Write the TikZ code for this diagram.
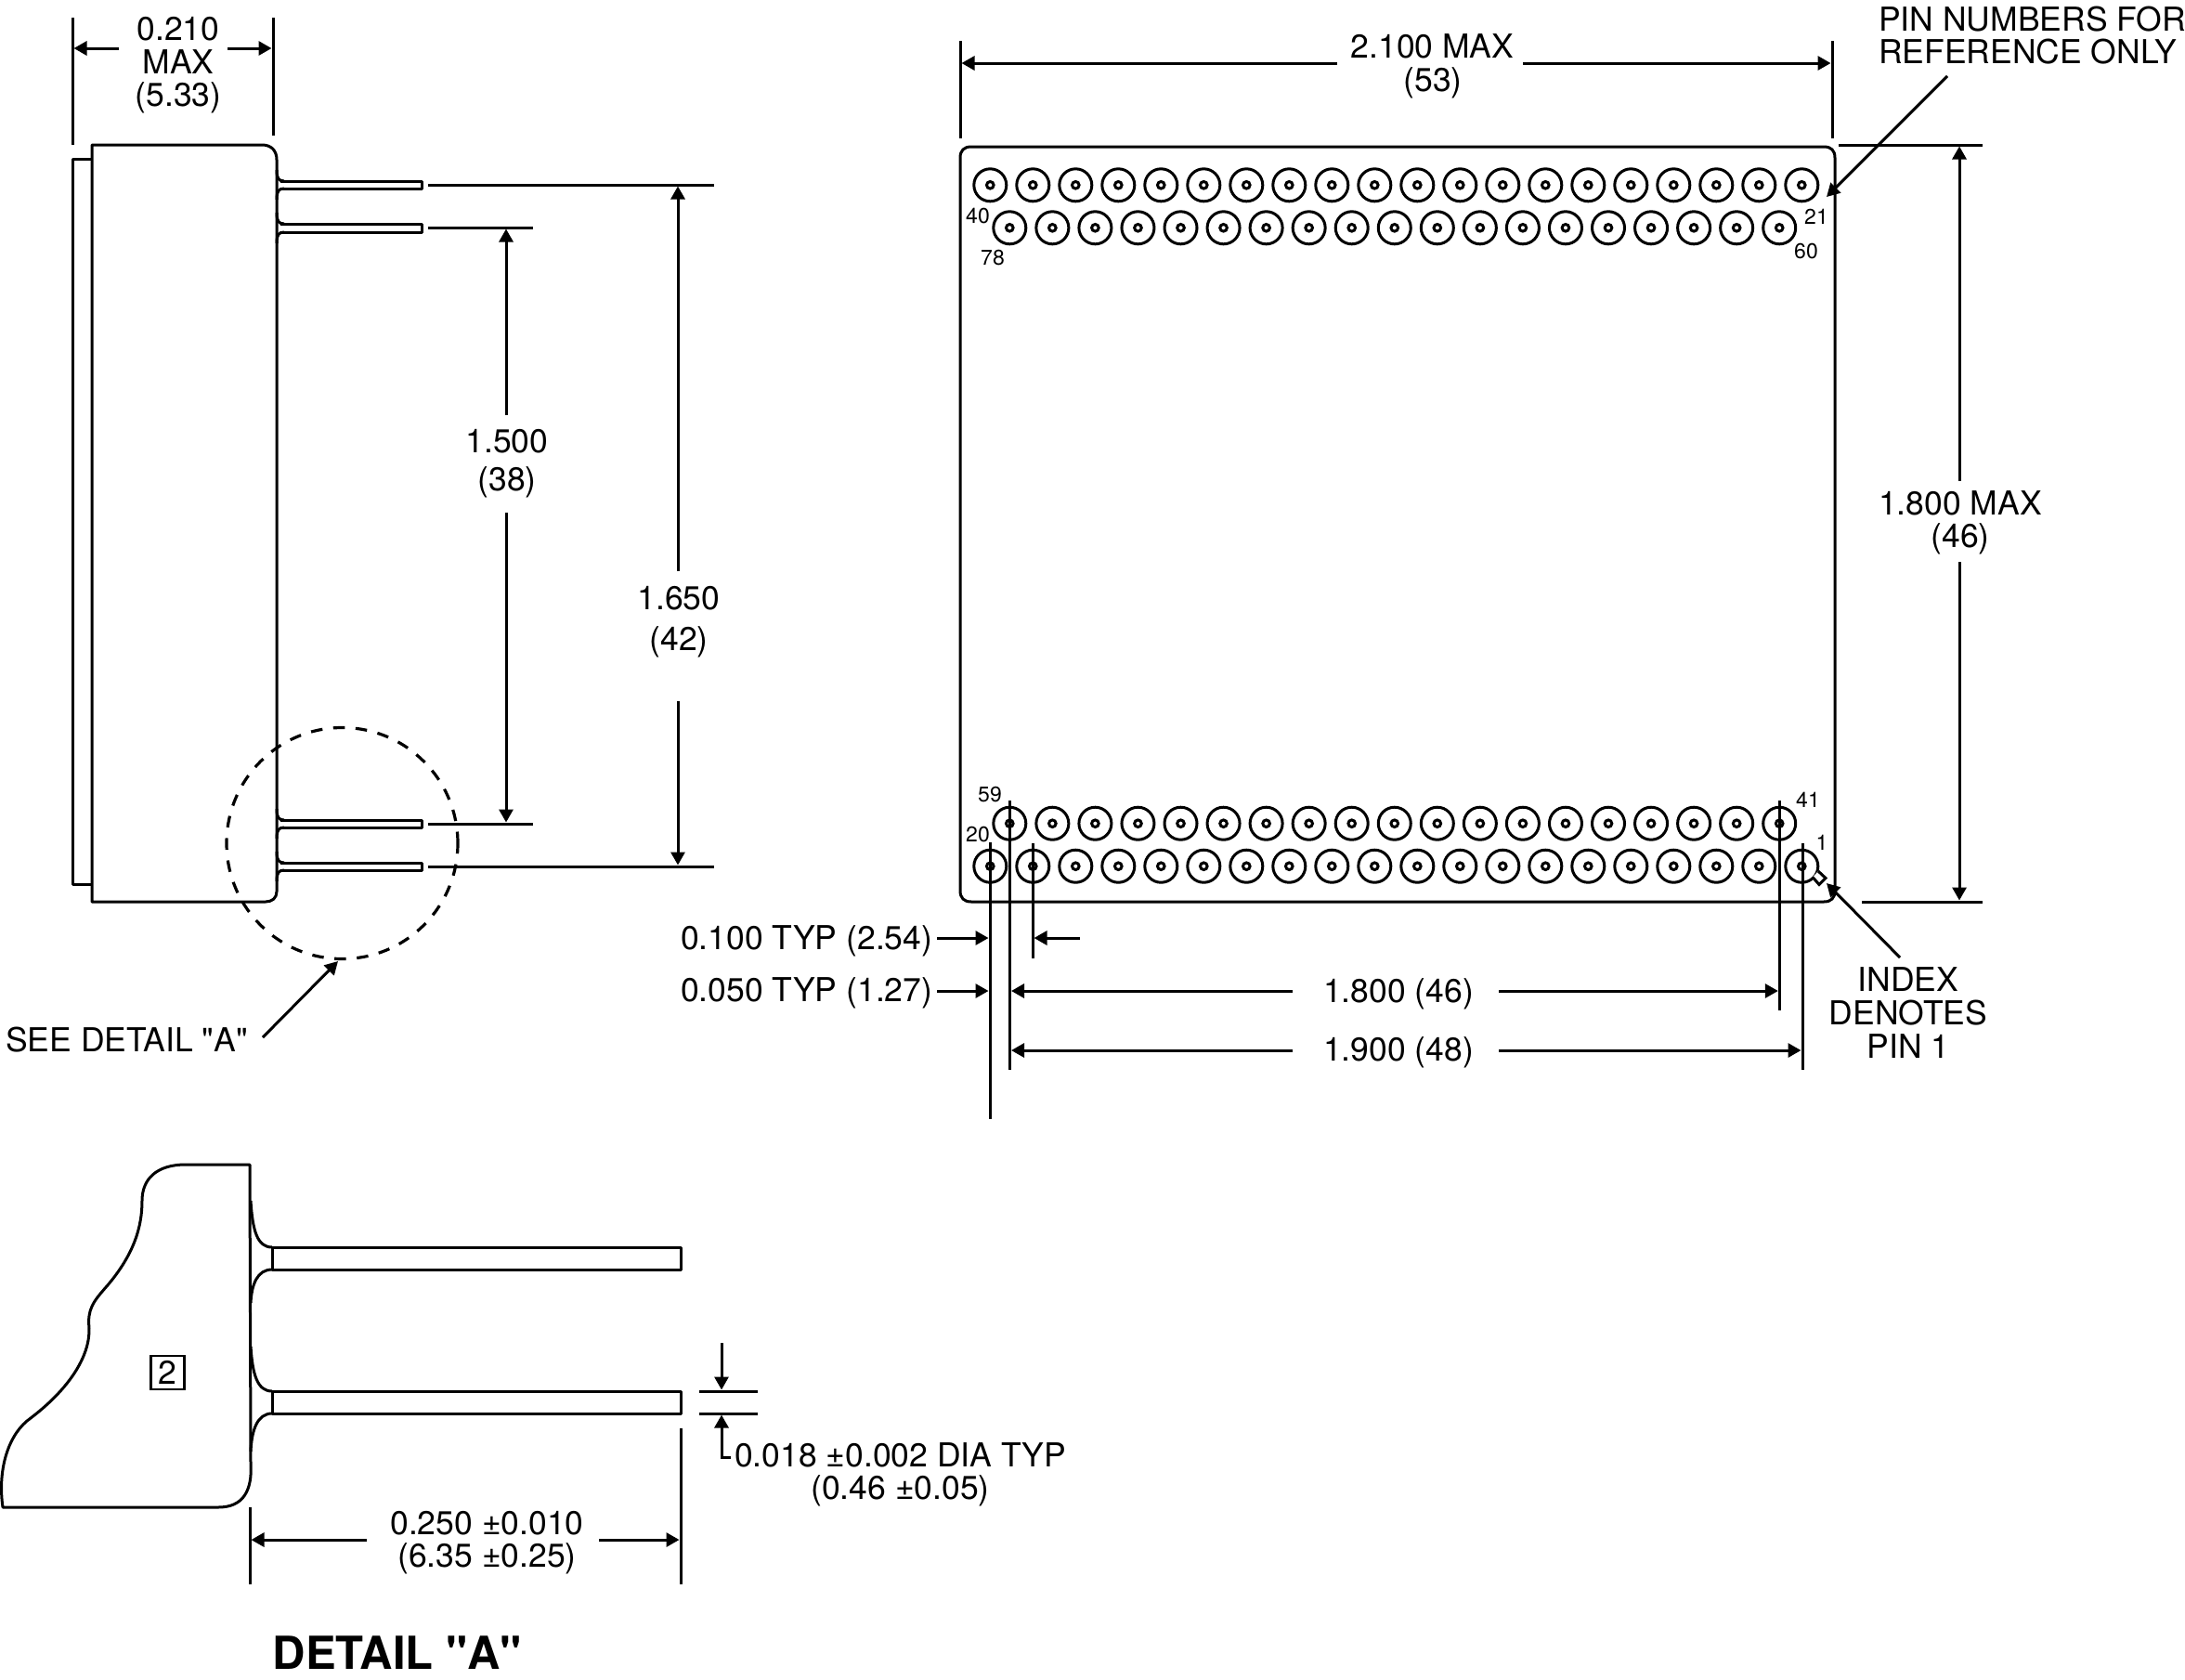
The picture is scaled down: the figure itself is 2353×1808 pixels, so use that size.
\documentclass[tikz,border=0pt]{standalone}
\usepackage{fontspec}
\setmainfont{TeX Gyre Heros}
\newfontfamily\hvplain{TeX Gyre Heros}
\usetikzlibrary{arrows.meta}
\tikzset{
  x=1pt,y=-1pt,
  outline/.style={line width=3pt,line join=round},
  thinline/.style={line width=3pt},
  dimarrow/.style={line width=3pt,-{Triangle[length=14pt,width=15pt]}},
  txt/.style={font=\fontsize{35.5}{36}\selectfont,inner sep=0pt,align=center},
  pinno/.style={font=\fontsize{23}{24}\selectfont,inner sep=0pt},
  pinring/.style={line width=3pt,draw=black,fill=none},
}
\newcommand{\pinat}[2]{\draw[pinring] (#1,#2) circle[radius=17.5pt];\draw[pinring] (#1,#2) circle[radius=3.8pt];}
\newcommand{\qq}{{\hvplain\char34 }}
\begin{document}
\begin{tikzpicture}
\useasboundingbox (0,0) rectangle (2353,1808);
% ---------- side view
\draw[outline] (99,156) -- (282,156) .. controls (292,156) and (298,162) .. (298,172)
  -- (298,960) .. controls (298,967) and (293,971) .. (286,971) -- (99,971) -- cycle;
\draw[outline] (99,171) -- (78,171) -- (78,952) -- (99,952);
% side pins
\foreach \t/\b in {195/203,241/250,883/891,929/937}{
  \draw[outline,fill=white] (302,\t) -- (454,\t) -- (454,\b) -- (302,\b);
  \draw[outline] (298,\t-12) .. controls (298,\t-3) and (300,\t) .. (306,\t);
  \draw[outline] (298,\b+12) .. controls (298,\b+3) and (300,\b) .. (306,\b);
}
% detail circle
\draw[line width=3.2pt,dash pattern=on 12.5pt off 11.6pt] (368.5,908) circle[radius=124.5pt];
% side view dims
\coordinate (e1a) at (78,19); \coordinate (e1b) at (78,156);
\coordinate (e2a) at (294,19); \coordinate (e2b) at (294,146);
\draw[thinline] (e1a) -- (e1b); \draw[thinline] (e2a) -- (e2b);
\coordinate (w1) at (128,52); \coordinate (w1t) at (79.5,52);
\coordinate (w2) at (245,52); \coordinate (w2t) at (292.5,52);
\draw[dimarrow] (w1) -- (w1t); \draw[dimarrow] (w2) -- (w2t);
\node[txt] (n210a) at (192,31) {0.210};
\node[txt] (n210b) at (192,67) {MAX};
\node[txt] (n210c) at (192,105.5) {(5.33)};
% extension lines
\foreach \y/\xe in {199/769,245/574,887/574,933/769}{
  \draw[thinline] (461,\y) -- (\xe,\y);
}
\coordinate (a1) at (545,447); \coordinate (a1t) at (545,246.5);
\coordinate (a2) at (545,552); \coordinate (a2t) at (545,885.5);
\draw[dimarrow] (a1) -- (a1t); \draw[dimarrow] (a2) -- (a2t);
\node[txt] (n1500) at (546,475) {1.500};
\node[txt] (n38) at (546,519) {(38)};
\coordinate (b1) at (730,615); \coordinate (b1t) at (730,200.5);
\coordinate (b2) at (730,755); \coordinate (b2t) at (730,931.5);
\draw[dimarrow] (b1) -- (b1t); \draw[dimarrow] (b2) -- (b2t);
\node[txt] (n1650) at (731,644.5) {1.650};
\node[txt] (n42) at (731,691) {(42)};
\node[txt,anchor=west] (see) at (6,1120) {SEE DETAIL \qq A\qq};
\coordinate (seeS) at (283,1117); \coordinate (seeT) at (364,1035);
\draw[dimarrow] (seeS) -- (seeT);
% ---------- top view
\draw[outline] (1046,158) -- (1964,158) .. controls (1972,158) and (1976,162) .. (1976,170)
  -- (1976,959) .. controls (1976,967) and (1972,971) .. (1964,971)
  -- (1046,971) .. controls (1038,971) and (1034,967) .. (1034,959)
  -- (1034,170) .. controls (1034,162) and (1038,158) .. (1046,158) -- cycle;
\foreach \i in {0,...,19}{
  \pgfmathsetmacro{\px}{1066.3+46*\i}
  \pinat{\px}{199.3}
  \pinat{\px}{932.7}
}
\foreach \i in {0,...,18}{
  \pgfmathsetmacro{\px}{1087.3+46.05*\i}
  \pinat{\px}{245.3}
  \pinat{\px}{886.7}
}
% index notch on pin 1
\fill[white] (1952,944.5) -- (1959,953) -- (1966,945.5) -- (1958,938) -- cycle;
\draw[line width=3pt,line join=miter] (1952,944.5) -- (1959,952.5) -- (1966,945.5) -- (1958,938);
% pin numbers
\node[pinno] (p40) at (1053,233) {40};
\node[pinno] (p78) at (1069,278) {78};
\node[pinno] (p21) at (1956,233) {21};
\node[pinno] (p60) at (1945,271) {60};
\node[pinno] (p59) at (1066,856) {59};
\node[pinno] (p20) at (1053,899) {20};
\node[pinno] (p41) at (1947,861) {41};
\node[pinno] (p1) at (1962,907) {1};
% top view dims
\draw[thinline] (1034,44) -- (1034,149);
\draw[thinline] (1973,44) -- (1973,149);
\coordinate (c1) at (1440,68); \coordinate (c1t) at (1035.5,68);
\coordinate (c2) at (1640,68); \coordinate (c2t) at (1971.5,68);
\draw[dimarrow] (c1) -- (c1t); \draw[dimarrow] (c2) -- (c2t);
\node[txt] (n2100) at (1542.5,50) {2.100 MAX};
\node[txt] (n53) at (1543,89) {(53)};
\draw[thinline] (1980,156) -- (2135,156);
\draw[thinline] (2005,971) -- (2135,971);
\coordinate (d1) at (2110,518); \coordinate (d1t) at (2110,157.5);
\coordinate (d2) at (2110,605); \coordinate (d2t) at (2110,969.5);
\draw[dimarrow] (d1) -- (d1t); \draw[dimarrow] (d2) -- (d2t);
\node[txt] (n1800m) at (2111,542) {1.800 MAX};
\node[txt] (n46m) at (2111,580) {(46)};
\node[txt,anchor=west] (pn1) at (2023,21) {PIN NUMBERS FOR};
\node[txt,anchor=west] (pn2) at (2023,56) {REFERENCE ONLY};
\coordinate (pnS) at (2097,82); \coordinate (pnT) at (1967,212);
\draw[dimarrow] (pnS) -- (pnT);
\node[txt] (ix1) at (2055,1055) {INDEX};
\node[txt] (ix2) at (2055,1091) {DENOTES};
\node[txt] (ix3) at (2055,1127) {PIN 1};
\coordinate (ixS) at (2046,1031); \coordinate (ixT) at (1967,951);
\draw[dimarrow] (ixS) -- (ixT);
% vertical witness lines
\draw[thinline] (1066,907) -- (1066,1205);
\draw[thinline] (1087.5,862) -- (1087.5,1152);
\draw[thinline] (1112,908) -- (1112,1032);
\draw[thinline] (1916.3,862) -- (1916.3,1088);
\draw[thinline] (1941,908) -- (1941,1152);
% pitch dims
\node[txt,anchor=west] (t100) at (733,1013) {0.100 TYP (2.54)};
\node[txt,anchor=west] (t050) at (733,1069) {0.050 TYP (1.27)};
\coordinate (f1) at (1009,1010); \coordinate (f1t) at (1064.5,1010);
\coordinate (f2) at (1163,1010); \coordinate (f2t) at (1113.5,1010);
\coordinate (g1) at (1009,1067); \coordinate (g1t) at (1064.5,1067);
\draw[dimarrow] (f1) -- (f1t); \draw[dimarrow] (f2) -- (f2t); \draw[dimarrow] (g1) -- (g1t);
\coordinate (h1) at (1392,1067); \coordinate (h1t) at (1089,1067);
\coordinate (h2) at (1614,1067); \coordinate (h2t) at (1914.8,1067);
\draw[dimarrow] (h1) -- (h1t); \draw[dimarrow] (h2) -- (h2t);
\node[txt] (n1800) at (1506,1070) {1.800 (46)};
\coordinate (i1) at (1392,1131); \coordinate (i1t) at (1089,1131);
\coordinate (i2) at (1614,1131); \coordinate (i2t) at (1939.5,1131);
\draw[dimarrow] (i1) -- (i1t); \draw[dimarrow] (i2) -- (i2t);
\node[txt] (n1900) at (1506,1133) {1.900 (48)};
% ---------- detail A
\draw[outline] (269,1254) -- (200,1254)
  .. controls (168,1254) and (153,1270) .. (153,1293)
  .. controls (153,1320) and (145,1350) .. (115,1385)
  .. controls (100,1402) and (94,1410) .. (96,1430)
  .. controls (97,1460) and (75,1495) .. (33,1527)
  .. controls (10,1543) and (-3,1580) .. (3,1623)
  -- (235,1623)
  .. controls (262,1623) and (272,1605) .. (270,1575)
  -- (269,1254) -- cycle;
\draw[outline] (270,1293) .. controls (272,1325) and (277,1343) .. (293,1343);
\draw[outline] (293,1367) .. controls (277,1367) and (271,1383) .. (270,1403);
\draw[outline] (270,1450) .. controls (272,1480) and (277,1498) .. (293,1498);
\draw[outline] (293,1522) .. controls (277,1522) and (271,1540) .. (270,1563);
\draw[outline] (293,1343) -- (293,1367);
\draw[outline] (293,1498) -- (293,1522);
\draw[outline] (293,1343) -- (733,1343) -- (733,1367) -- (293,1367);
\draw[outline] (293,1498) -- (733,1498) -- (733,1522) -- (293,1522);
\node[draw,line width=2.6pt,minimum width=36pt,minimum height=36pt,inner sep=0pt,font=\fontsize{35.5}{36}\selectfont] (two) at (180.5,1478) {2};
\draw[thinline] (753,1498) -- (816,1498);
\draw[thinline] (753,1522) -- (816,1522);
\coordinate (j1) at (777,1446); \coordinate (j1t) at (777,1496.5);
\draw[dimarrow] (j1) -- (j1t);
\coordinate (j2) at (787,1569); \coordinate (j2c) at (777,1569); \coordinate (j2t) at (777,1523.5);
\draw[dimarrow] (j2) -- (j2c) -- (j2t);
\node[txt,anchor=west] (t018) at (791,1567) {0.018 ±0.002 DIA TYP};
\node[txt] (t046) at (969.5,1605) {(0.46 ±0.05)};
\draw[thinline] (269,1623) -- (269,1706);
\draw[thinline] (733,1538) -- (733,1706);
\coordinate (k1) at (395,1658); \coordinate (k1t) at (270.5,1658);
\coordinate (k2) at (645,1658); \coordinate (k2t) at (731.5,1658);
\draw[dimarrow] (k1) -- (k1t); \draw[dimarrow] (k2) -- (k2t);
\node[txt] (t250) at (524.5,1640) {0.250 ±0.010};
\node[txt] (t635) at (524.5,1678) {(6.35 ±0.25)};
\node[font=\fontsize{49}{50}\selectfont\bfseries,inner sep=0pt] (det) at (428,1780) {DETAIL \qq A\qq};
\end{tikzpicture}
\end{document}
